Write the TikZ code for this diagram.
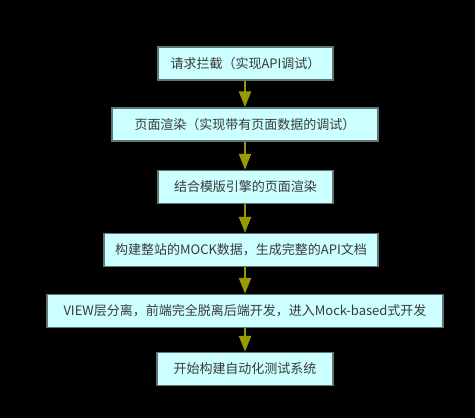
\documentclass[tikz,border=0pt]{standalone}
\usepackage{fontspec}
\newfontfamily\cjk{Noto Sans CJK SC}
\usetikzlibrary{arrows.meta}
\definecolor{boxfill}{HTML}{CCFFFF}
\definecolor{boxline}{HTML}{607575}
\definecolor{arrowcol}{HTML}{999900}
\definecolor{textcol}{HTML}{3A3A3A}
\begin{document}
\begin{tikzpicture}[x=1pt,y=-1pt,
    stepbox/.style={draw=boxline,line width=1.5pt,fill=boxfill,text=textcol,
        minimum height=33pt,inner sep=0pt,font=\cjk\fontsize{13}{15}\selectfont},
    flow/.style={draw=arrowcol,line width=2.6pt,-{Triangle[width=12pt,length=16pt]}}]
                \fill[black] (0,0) rectangle (475,418);
                \node[stepbox,minimum width=175pt] (intercept) at (245.5,63.5) {请求拦截（实现API调试）};
                \node[stepbox,minimum width=266pt] (render) at (245,124.5) {页面渲染（实现带有页面数据的调试）};
                \node[stepbox,minimum width=175pt] (tmpl) at (245.5,187) {结合模版引擎的页面渲染};
                \node[stepbox,minimum width=274pt] (mock) at (241,250) {构建整站的MOCK数据，生成完整的API文档};
                \node[stepbox,minimum width=396pt] (view) at (245,311) {VIEW层分离，前端完全脱离后端开发，进入Mock-based式开发};
                \node[stepbox,minimum width=176pt] (autotest) at (245,369) {开始构建自动化测试系统};
                \foreach \a/\b in {intercept/render,render/tmpl,tmpl/mock,mock/view,view/autotest}{
                    \draw[flow] (\a.south -| 245,0) -- (\b.north -| 245,0);
                }
            \end{tikzpicture}
\end{document}
